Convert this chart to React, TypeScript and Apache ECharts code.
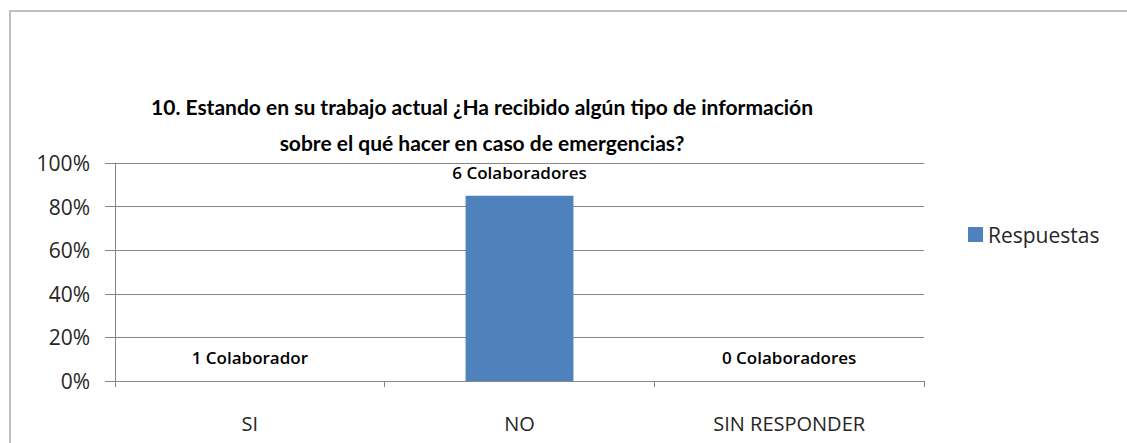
import React, { useEffect, useRef } from "react";
import * as echarts from "echarts";

const titleLines = [
  "10. Estando en su trabajo actual ¿Ha recibido algún tipo de información",
  "sobre el qué hacer en caso de emergencias?",
];
const categories = ["SI", "NO", "SIN RESPONDER"];
const values = [0, 0.85, 0];
const barLabels = ["1 Colaborador", "6 Colaboradores", "0 Colaboradores"];
const seriesName = "Respuestas";
const yTicks = [0, 0.2, 0.4, 0.6, 0.8, 1];

export default function App() {
  const ref = useRef<HTMLDivElement>(null);
  useEffect(() => {
    if (!ref.current) return;
    const chart = echarts.init(ref.current, null, { renderer: "svg" });
    chart.setOption({
      animation: false,
      backgroundColor: "#ffffff",
      title: {
        text: titleLines.join("\n"),
        left: 477,
        textAlign: "center",
        top: 83,
        textStyle: {
          fontFamily: "Lato, 'Open Sans', sans-serif",
          fontWeight: "bold",
          fontSize: 21,
          lineHeight: 36,
          color: "#000000",
        },
      },
      graphic: [
        {
          type: "rect",
          shape: { x: 10, y: 11, width: 1130, height: 450 },
          style: { fill: "none", stroke: "#bfbfbf", lineWidth: 2 },
          silent: true,
        },
      ],
      legend: {
        data: [seriesName],
        left: 963,
        top: 219,
        itemWidth: 15,
        itemHeight: 15,
        itemGap: 8,
        icon: "rect",
        textStyle: {
          fontFamily: "'Open Sans', Lato, sans-serif",
          fontSize: 21,
          color: "#262626",
        },
      },
      grid: { left: 115, right: 203, top: 163, bottom: 62, containLabel: false },
      xAxis: {
        type: "category",
        data: categories,
        axisLine: { show: true, lineStyle: { color: "#868686", width: 1 } },
        axisTick: { show: true, length: 6, alignWithLabel: false, lineStyle: { color: "#868686" } },
        axisLabel: {
          margin: 32,
          fontFamily: "'Open Sans', Lato, sans-serif",
          fontSize: 20,
          color: "#262626",
        },
      },
      yAxis: {
        type: "value",
        min: 0,
        max: 1,
        interval: 0.2,
        axisLine: { show: true, lineStyle: { color: "#868686", width: 1 } },
        axisTick: { show: true, length: 10, lineStyle: { color: "#868686" } },
        splitLine: { show: true, lineStyle: { color: "#868686", width: 1 } },
        axisLabel: {
          margin: 25,
          fontFamily: "'Open Sans', Lato, sans-serif",
          fontSize: 21,
          color: "#262626",
          formatter: (v: number) => (yTicks.includes(Math.round(v * 10) / 10) ? Math.round(v * 100) + "%" : ""),
        },
      },
      series: [
        {
          name: seriesName,
          type: "bar",
          data: values,
          barWidth: "40%",
          itemStyle: { color: "#4f81bd" },
          label: {
            show: true,
            position: "top",
            distance: 15,
            fontFamily: "'Open Sans', Lato, sans-serif",
            fontWeight: 600,
            fontSize: 17,
            color: "#000000",
            formatter: (p: any) => barLabels[p.dataIndex],
          },
        },
      ],
    });
    return () => chart.dispose();
  }, []);
  return <div ref={ref} style={{ width: 1127, height: 443, position: "absolute", left: 0, top: 0 }} />;
}
